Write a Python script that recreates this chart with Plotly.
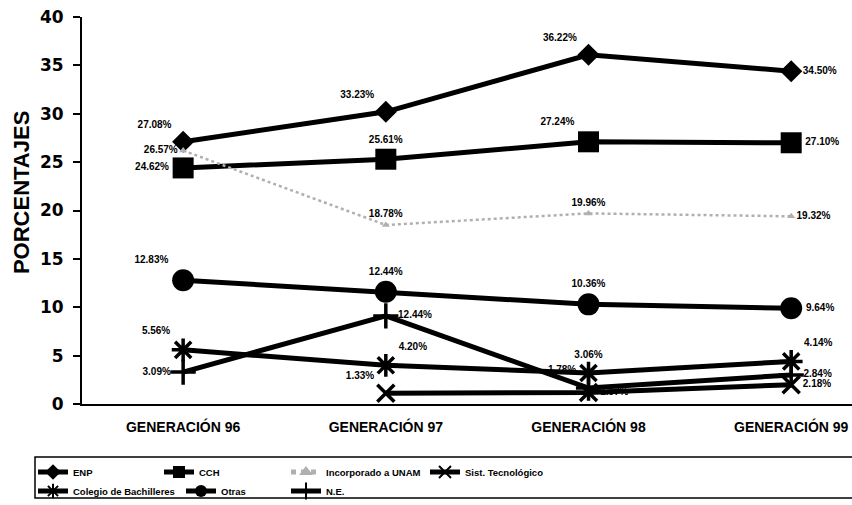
import plotly.graph_objects as go

categories = ["GENERACIÓN 96", "GENERACIÓN 97", "GENERACIÓN 98", "GENERACIÓN 99"]

enp = [27.1, 30.2, 36.1, 34.4]
enp_lbl = ["27.08%", "33.23%", "36.22%", "34.50%"]
cch = [24.4, 25.3, 27.1, 27.0]
cch_lbl = ["24.62%", "25.61%", "27.24%", "27.10%"]
incorp = [26.2, 18.5, 19.7, 19.4]
incorp_lbl = ["26.57%", "18.78%", "19.96%", "19.32%"]
sist = [None, 1.1, 1.2, 2.0]
sist_lbl = ["", "1.33%", "1.57%", "2.18%"]
colegio = [5.6, 4.0, 3.2, 4.4]
colegio_lbl = ["5.56%", "4.20%", "3.06%", "4.14%"]
otras = [12.8, 11.6, 10.3, 9.9]
otras_lbl = ["12.83%", "12.44%", "10.36%", "9.64%"]
ne = [3.3, 9.1, 1.65, 3.0]
ne_lbl = ["3.09%", "12.44%", "1.78%", "2.84%"]

xs = list(range(len(categories)))
LBL_FONT = dict(family="Liberation Sans, Arial", size=10, color="black", weight="bold")

# name, values, labels, symbol, size, text positions, legend position (px x, px y)
series = [
    ("ENP", enp, enp_lbl, "diamond", 17, ["top left", "top left", "top left", "middle right"], (33, 472)),
    ("CCH", cch, cch_lbl, "square", 21, ["middle left", "top center", "top left", "middle right"], (159, 472)),
    ("Incorporado a UNAM", incorp, incorp_lbl, "triangle-up", 7, ["middle left", "top center", "top center", "middle right"], (286, 472)),
    ("Sist. Tecnológico", sist, sist_lbl, "x-thin-open", 17, ["middle left", "top left", "middle right", "middle right"], (425, 472)),
    ("Colegio de Bachilleres", colegio, colegio_lbl, "asterisk-open", 19, ["top left", "top right", "top center", "top right"], (33, 491)),
    ("Otras", otras, otras_lbl, "circle", 22, ["top left", "top center", "top center", "middle right"], (181, 491)),
    ("N.E.", ne, ne_lbl, "cross-thin-open", 18, ["middle left", "middle right", "top left", "middle right"], (286, 491)),
]

LEG_FONT = dict(family="Liberation Sans, Arial", size=9.5, color="black", weight="bold")
fig = go.Figure()
legends = {}
for i, (name, vals, lbls, sym, size, tpos, (lx, ly)) in enumerate(series):
    gray = name == "Incorporado a UNAM"
    col = "#b0b0b0" if gray else "black"
    leg = "legend" if i == 0 else f"legend{i + 1}"
    fig.add_trace(go.Scatter(
        x=xs, y=vals, name=name, mode="lines+markers+text",
        text=lbls, textposition=tpos, textfont=LBL_FONT,
        line=dict(color=col, width=2.5 if gray else 5, dash="dot" if gray else "solid"),
        marker=dict(symbol=sym, size=size, color=col,
                    line=dict(color=col, width=3.5 if sym.endswith("open") else 0)),
        cliponaxis=False, legend=leg, showlegend=True,
    ))
    legends[leg] = dict(x=(lx - 82) / 770, y=(404 - ly) / 387, xanchor="left", yanchor="middle",
                        orientation="h", itemwidth=30, itemsizing="constant",
                        font=LEG_FONT, bgcolor="rgba(0,0,0,0)")

fig.update_layout(
    width=852, height=505, showlegend=True,
    margin=dict(l=82, r=0, t=17, b=101, autoexpand=False),
    paper_bgcolor="white", plot_bgcolor="white",
    font=dict(family="Liberation Sans, Arial", color="black"),
    xaxis=dict(range=[-0.499, 3.30], tickvals=xs, ticktext=categories,
               showgrid=False, zeroline=False, showline=True, linecolor="black", linewidth=2,
               ticks="", ticklabelstandoff=9, automargin=False,
               tickfont=dict(family="Liberation Sans, Arial", size=14, color="black", weight="bold")),
    yaxis=dict(range=[0, 40], dtick=5, showgrid=False, zeroline=False,
               showline=True, linecolor="black", linewidth=2, automargin=False,
               ticks="outside", ticklen=7, tickwidth=1.5, tickcolor="black", ticklabelstandoff=6,
               tickfont=dict(family="DejaVu Sans", size=17, color="black", weight="bold")),
    annotations=[dict(text="PORCENTAJES", textangle=-90, xref="paper", yref="paper",
                      x=(21 - 82) / 770, y=0.545, xanchor="center", yanchor="middle",
                      showarrow=False,
                      font=dict(family="Liberation Sans, Arial", size=22, color="black", weight="bold"))],
    shapes=[dict(type="rect", xref="paper", yref="paper",
                 x0=(35 - 82) / 770, x1=1.2, y0=(404 - 457) / 387, y1=(404 - 498) / 387,
                 line=dict(color="black", width=1.5), fillcolor="rgba(0,0,0,0)", layer="below")],
    **legends,
)

fig.write_html("out.html", config={"displayModeBar": False},
               post_script="document.body.style.margin='0';document.body.style.padding='0';")
